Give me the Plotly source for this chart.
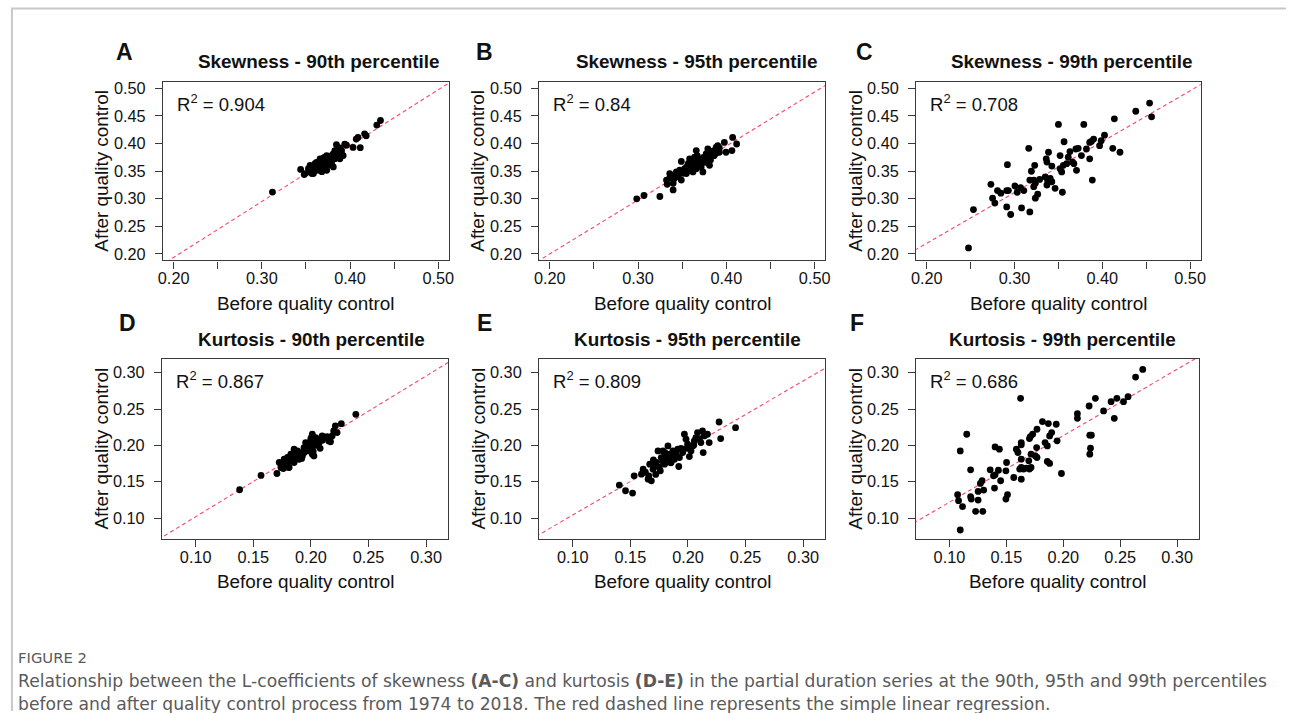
import plotly.graph_objects as go

W, H = 1291, 713

# ---------------- data ----------------
skew90_before = [0.312, 0.344, 0.348, 0.4345, 0.4303, 0.4165, 0.4183, 0.407, 0.409, 0.4116, 0.4034, 0.3846, 0.394, 0.396,
                 0.349, 0.3547, 0.3528, 0.3566, 0.3603, 0.3622, 0.3641, 0.366, 0.3678, 0.3697, 0.3716, 0.3697, 0.3735,
                 0.3753, 0.3772, 0.3791, 0.381, 0.3828, 0.3847, 0.3866, 0.3885, 0.3903, 0.3922, 0.3791, 0.366, 0.3585,
                 0.3735, 0.3828, 0.3885, 0.3753, 0.381,
                 0.357, 0.361, 0.364, 0.367, 0.369, 0.371, 0.374, 0.376, 0.378, 0.38, 0.372, 0.365, 0.368, 0.385, 0.387,
                 0.39, 0.378, 0.383, 0.362, 0.37,
                 0.3566, 0.3622, 0.3547, 0.368, 0.389, 0.375]
skew90_after = [0.312, 0.353, 0.3437, 0.4417, 0.4335, 0.4175, 0.4139, 0.408, 0.411, 0.3925, 0.393, 0.3979, 0.399, 0.397,
                0.3456, 0.3485, 0.3545, 0.3575, 0.3634, 0.3575, 0.3664, 0.3723, 0.3634, 0.3693, 0.3753, 0.3545, 0.3515,
                0.3604, 0.3693, 0.3782, 0.3812, 0.3723, 0.3842, 0.3782, 0.3812, 0.3871, 0.3782, 0.3634, 0.3515, 0.3456,
                0.3782, 0.3871, 0.3723, 0.3664, 0.3575,
                0.352, 0.358, 0.361, 0.365, 0.36, 0.368, 0.372, 0.375, 0.371, 0.376, 0.357, 0.355, 0.37, 0.38, 0.385,
                0.383, 0.365, 0.378, 0.366, 0.374,
                0.3455, 0.3515, 0.3604, 0.349, 0.392, 0.366]

skew95_before = [0.2985, 0.3067, 0.3247, 0.3397, 0.3322, 0.3359, 0.3416, 0.3434, 0.349, 0.3397, 0.349, 0.3472, 0.3528,
                 0.3565, 0.3603, 0.3622, 0.3659, 0.3584, 0.364, 0.3659, 0.3696, 0.3715, 0.3753, 0.3771, 0.379, 0.3809,
                 0.3846, 0.3865, 0.3884, 0.3902, 0.3921, 0.3977, 0.3996, 0.4071, 0.4116, 0.4063, 0.3734, 0.3622, 0.3547,
                 0.345, 0.351, 0.355, 0.358, 0.361, 0.363, 0.366, 0.368, 0.37, 0.372, 0.374, 0.376, 0.378, 0.38, 0.382,
                 0.384, 0.386, 0.388, 0.39, 0.392, 0.367, 0.357, 0.353, 0.347, 0.341, 0.336, 0.333]
skew95_after = [0.2998, 0.3058, 0.304, 0.3159, 0.3337, 0.3456, 0.3426, 0.3486, 0.3337, 0.3278, 0.3676, 0.3516, 0.3545,
                0.3605, 0.3664, 0.3486, 0.3545, 0.3723, 0.3753, 0.3872, 0.3664, 0.3575, 0.3723, 0.3812, 0.3902, 0.3605,
                0.3783, 0.3842, 0.3931, 0.3961, 0.3842, 0.402, 0.3842, 0.411, 0.3991, 0.3872, 0.3486, 0.3605, 0.3456,
                0.34, 0.346, 0.357, 0.351, 0.359, 0.362, 0.368, 0.372, 0.363, 0.37, 0.375, 0.366, 0.374, 0.378, 0.37,
                0.386, 0.378, 0.382, 0.388, 0.392, 0.378, 0.364, 0.35, 0.345, 0.336, 0.338, 0.326]

skew99_before = [0.2476, 0.2532, 0.2731, 0.2750, 0.2776, 0.2806, 0.2844, 0.2911, 0.293, 0.2919, 0.2911, 0.2956, 0.3005,
                 0.3031, 0.3069, 0.308, 0.3106, 0.3162, 0.3174, 0.3174, 0.3192, 0.3219, 0.3237, 0.3219, 0.323, 0.3237,
                 0.3264, 0.3286, 0.335, 0.3361, 0.3369, 0.3387, 0.3369, 0.3376, 0.3406, 0.3425, 0.3425, 0.3462, 0.35,
                 0.3519, 0.3519, 0.3537, 0.3545, 0.3564, 0.3556, 0.3594, 0.3612, 0.3631, 0.3661, 0.3676, 0.3699, 0.3725,
                 0.3706, 0.3762, 0.3789, 0.3819, 0.3856, 0.3875, 0.3856, 0.3886, 0.3901, 0.3969, 0.3987, 0.4025, 0.4137,
                 0.4119, 0.4201, 0.4381, 0.4538, 0.4561]
skew99_after = [0.2107, 0.2802, 0.326, 0.301, 0.2921, 0.3147, 0.31, 0.3147, 0.3147, 0.3616, 0.285, 0.2713, 0.323,
                0.3117, 0.32, 0.2832, 0.3147, 0.3913, 0.3337, 0.2761, 0.3497, 0.3337, 0.3278, 0.3218, 0.3604, 0.301,
                0.3081, 0.3349, 0.3396, 0.3723, 0.3664, 0.3842, 0.3248, 0.3337, 0.3367, 0.3307, 0.3592, 0.3188, 0.4347,
                0.3782, 0.3545, 0.3485, 0.3117, 0.4032, 0.3604, 0.3634, 0.3753, 0.3854, 0.3664, 0.3634, 0.3901, 0.3913,
                0.3515, 0.3782, 0.4347, 0.3901, 0.402, 0.4038, 0.3723, 0.3337, 0.408, 0.3961, 0.405, 0.4151, 0.4448,
                0.3913, 0.3842, 0.4585, 0.4733, 0.4484]

kurt90_before = [0.1381, 0.1567, 0.1705, 0.239, 0.2264, 0.2212, 0.2198, 0.2227, 0.2184, 0.2155, 0.2126, 0.2098, 0.2069,
                 0.2041, 0.2012, 0.1997, 0.2026, 0.1983, 0.1954, 0.194, 0.1969, 0.2012, 0.2026, 0.1911, 0.1883, 0.1869,
                 0.1854, 0.184, 0.1826, 0.1797, 0.1783, 0.1768, 0.1754, 0.1811, 0.174, 0.1725, 0.1854, 0.1897, 0.1926,
                 0.178, 0.182, 0.186, 0.19, 0.194, 0.198, 0.2, 0.203, 0.205, 0.207, 0.21, 0.2, 0.196, 0.18, 0.176,
                 0.188, 0.192, 0.214, 0.217, 0.208, 0.202]
kurt90_after = [0.1389, 0.1586, 0.1613, 0.2428, 0.2299, 0.2267, 0.2199, 0.2176, 0.213, 0.2061, 0.2107, 0.213, 0.2084,
                0.2107, 0.2153, 0.2061, 0.2016, 0.1993, 0.2038, 0.197, 0.1924, 0.1878, 0.1855, 0.1901, 0.1924, 0.1855,
                0.1947, 0.1809, 0.1878, 0.1833, 0.1764, 0.1809, 0.1741, 0.1695, 0.1695, 0.1764, 0.1764, 0.1809, 0.1855,
                0.172, 0.178, 0.184, 0.187, 0.19, 0.194, 0.198, 0.205, 0.2, 0.203, 0.207, 0.21, 0.2, 0.17, 0.168,
                0.19, 0.182, 0.212, 0.205, 0.196, 0.192]

kurt95_before = [0.1404, 0.1458, 0.1519, 0.1533, 0.1611, 0.1596, 0.1654, 0.1682, 0.1668, 0.1697, 0.1725, 0.174, 0.1783,
                 0.1768, 0.1797, 0.1811, 0.1826, 0.184, 0.1869, 0.1854, 0.1883, 0.1897, 0.1911, 0.192, 0.1926, 0.1954,
                 0.1969, 0.1983, 0.1997, 0.2012, 0.2026, 0.204, 0.2055, 0.2069, 0.2083, 0.2098, 0.2112, 0.2126, 0.2132,
                 0.2141, 0.2169, 0.2184, 0.227, 0.2284, 0.2413,
                 0.163, 0.171, 0.175, 0.178, 0.183, 0.187, 0.189, 0.194, 0.176, 0.185, 0.19, 0.172, 0.166, 0.199,
                 0.205, 0.18, 0.17]
kurt95_after = [0.1453, 0.1375, 0.1343, 0.1581, 0.1672, 0.1604, 0.1535, 0.1512, 0.1741, 0.1672, 0.1764, 0.1924, 0.1924,
                0.1832, 0.1741, 0.1809, 0.1993, 0.1878, 0.1924, 0.1764, 0.1809, 0.1878, 0.1947, 0.1709, 0.1832, 0.1901,
                0.2153, 0.2084, 0.2016, 0.1846, 0.1924, 0.1993, 0.2061, 0.2107, 0.2176, 0.2093, 0.2038, 0.2199, 0.1901,
                0.213, 0.2153, 0.2038, 0.2322, 0.2093, 0.2244,
                0.163, 0.172, 0.17, 0.178, 0.185, 0.182, 0.19, 0.196, 0.165, 0.176, 0.185, 0.16, 0.158, 0.196,
                0.2, 0.19, 0.18]

kurt99_before = [0.1095, 0.1072, 0.108, 0.1095, 0.1115, 0.1152, 0.1186, 0.1186, 0.1192, 0.123, 0.1252, 0.1252, 0.1272,
                 0.1287, 0.1293, 0.1301, 0.1358, 0.1387, 0.1401, 0.1396, 0.1401, 0.143, 0.1439, 0.145, 0.1496, 0.1502,
                 0.1496, 0.151, 0.1565, 0.1588, 0.1602, 0.1625, 0.1617, 0.1631, 0.1631, 0.1631, 0.1631, 0.1631, 0.1651,
                 0.1674, 0.1697, 0.1703, 0.1711, 0.1703, 0.1717, 0.1717, 0.1731, 0.1754, 0.1766, 0.1769, 0.1769, 0.1817,
                 0.184, 0.186, 0.1869, 0.186, 0.188, 0.188, 0.1898, 0.1938, 0.1946, 0.1984, 0.2124, 0.2124, 0.2227,
                 0.2233, 0.2247, 0.2239, 0.2233, 0.2282, 0.2354, 0.242, 0.2448, 0.2471, 0.2529, 0.2569, 0.2635, 0.2698]
kurt99_after = [0.0835, 0.132, 0.1238, 0.1924, 0.1156, 0.2153, 0.1664, 0.1293, 0.1261, 0.1092, 0.1366, 0.1247, 0.1476,
                0.1513, 0.1092, 0.1384, 0.1664, 0.1581, 0.1595, 0.1412, 0.1979, 0.1659, 0.1947, 0.1513, 0.165, 0.1764,
                0.1261, 0.132, 0.1558, 0.1947, 0.1902, 0.2648, 0.1673, 0.1696, 0.2039, 0.2007, 0.181, 0.1535, 0.1673,
                0.1687, 0.1787, 0.2094, 0.2121, 0.1673, 0.1696, 0.1879, 0.2153, 0.1856, 0.197, 0.2222, 0.1833, 0.2327,
                0.2039, 0.1993, 0.23, 0.1778, 0.1751, 0.213, 0.2176, 0.2291, 0.2062, 0.1613, 0.2437, 0.2373, 0.2542,
                0.214, 0.214, 0.1961, 0.1879, 0.2648, 0.2474, 0.2602, 0.2373, 0.2648, 0.2602, 0.267, 0.294, 0.3046]

panel_letters = ["A", "B", "C", "D", "E", "F"]
panel_titles = ["Skewness - 90th percentile", "Skewness - 95th percentile", "Skewness - 99th percentile",
                "Kurtosis - 90th percentile", "Kurtosis - 95th percentile", "Kurtosis - 99th percentile"]
r2_labels = ["0.904", "0.84", "0.708", "0.867", "0.809", "0.686"]
fit_intercept = [-0.009, 0.004, 0.0347, 0.0049, 0.0118, 0.0303]
fit_slope = [1.013, 0.979, 0.922, 0.969, 0.923, 0.915]

skew_xticks = [0.20, 0.30, 0.40, 0.50]
skew_xminor = [0.25, 0.35, 0.45]
skew_yticks = [0.20, 0.25, 0.30, 0.35, 0.40, 0.45, 0.50]
kurt_ticks = [0.10, 0.15, 0.20, 0.25, 0.30]

x_title = "Before quality control"
y_title = "After quality control"
caption_head = "FIGURE 2"
caption_l1 = ("Relationship between the L-coefficients of skewness <b>(A-C)</b> and kurtosis <b>(D-E)</b> "
              "in the partial duration series at the 90th, 95th and 99th percentiles")
caption_l2 = ("before and after quality control process from 1974 to 2018. The red dashed line represents "
              "the simple linear regression.")

series = [(skew90_before, skew90_after), (skew95_before, skew95_after), (skew99_before, skew99_after),
          (kurt90_before, kurt90_after), (kurt95_before, kurt95_after), (kurt99_before, kurt99_after)]

# ---------------- layout geometry (pixels) ----------------
boxes = [  # x0, x1, y_top, y_bottom
    (159.3, 447.3, 79.3, 259.3),
    (538.3, 826.7, 79.3, 259.3),
    (918.3, 1205.0, 79.3, 259.3),
    (158.3, 446.7, 358.3, 540.0),
    (538.3, 826.7, 358.3, 540.0),
    (918.3, 1203.3, 358.3, 540.0),
]
skew_range = [0.188, 0.512]
kurt_range = [0.0708, 0.3192]
letter_pos = [(120, 49), (483, 49), (866, 49), (123, 322), (483, 322), (859, 322)]
title_pos = [(316, 59), (697, 59), (1075, 59), (309, 339), (688, 339), (1066, 339)]
xtitle_y = [303, 303, 303, 583, 583, 583]


def px(x):
    return x / W


def py(y):
    return 1 - y / H


FONT = "Liberation Sans, Arial, Helvetica, sans-serif"
TXT = "#111111"
AX = "#3a3a3a"
RED = "rgb(243,74,104)"

fig = go.Figure()
annotations = []

for i, (xs, ys) in enumerate(series):
    n = i + 1
    sfx = "" if n == 1 else str(n)
    x0, x1, yt, yb = boxes[i]
    is_skew = i < 3
    rng = skew_range if is_skew else kurt_range

    # regression line (clipped by the axes)
    lx = [rng[0] - 0.05, rng[1] + 0.05]
    ly = [fit_intercept[i] + fit_slope[i] * v for v in lx]
    fig.add_trace(go.Scatter(x=lx, y=ly, mode="lines", xaxis="x" + sfx, yaxis="y" + sfx,
                             line=dict(color=RED, width=1.1, dash="4px,3px"), hoverinfo="skip",
                             showlegend=False))
    fig.add_trace(go.Scatter(x=xs, y=ys, mode="markers", xaxis="x" + sfx, yaxis="y" + sfx,
                             marker=dict(color="black", size=6.8, line=dict(width=0)),
                             showlegend=False, cliponaxis=False))

    common = dict(showgrid=False, zeroline=False, showline=True, mirror=True, linecolor=AX, linewidth=1.3,
                  ticks="outside", ticklen=7, tickwidth=1.2, tickcolor=AX, range=rng,
                  tickfont=dict(family=FONT, size=16.3, color=TXT), fixedrange=True, tickmode="array")
    if is_skew:
        xt, yv = skew_xticks, skew_yticks
        xminor = dict(tickmode="array", tickvals=skew_xminor, ticks="outside", ticklen=7, tickwidth=1.2,
                      tickcolor=AX, showgrid=False)
    else:
        xt, yv = kurt_ticks, kurt_ticks
        xminor = None
    xa = dict(domain=[px(x0), px(x1)], anchor="y" + sfx, tickvals=xt,
              ticktext=["%.2f" % v for v in xt], ticklabelstandoff=-4, **common)
    if xminor:
        xa["minor"] = xminor
    ya = dict(domain=[py(yb), py(yt)], anchor="x" + sfx, tickvals=yv,
              ticktext=["%.2f" % v for v in yv], ticklabelstandoff=6, **common)
    fig.update_layout(**{"xaxis" + sfx: xa, "yaxis" + sfx: ya})

    # panel letter
    lxp, lyp = letter_pos[i]
    annotations.append(dict(x=px(lxp), y=py(lyp), xref="paper", yref="paper", text="<b>%s</b>" % panel_letters[i],
                            showarrow=False, xanchor="center", yanchor="middle",
                            font=dict(family=FONT, size=23, color=TXT)))
    # title
    tx, ty = title_pos[i]
    annotations.append(dict(x=px(tx), y=py(ty), xref="paper", yref="paper", text="<b>%s</b>" % panel_titles[i],
                            showarrow=False, xanchor="center", yanchor="middle",
                            font=dict(family=FONT, size=18.9, color=TXT)))
    # R^2
    annotations.append(dict(x=px(x0 + 12), y=py(yt + 21), xref="paper", yref="paper",
                            text="R<sup>2</sup> = %s" % r2_labels[i], showarrow=False,
                            xanchor="left", yanchor="middle", font=dict(family=FONT, size=18.5, color=TXT)))
    # axis titles
    annotations.append(dict(x=px((x0 + x1) / 2), y=py(xtitle_y[i]), xref="paper", yref="paper", text=x_title,
                            showarrow=False, xanchor="center", yanchor="middle",
                            font=dict(family=FONT, size=18.9, color=TXT)))
    annotations.append(dict(x=px(x0 - 62), y=py((yt + yb) / 2), xref="paper", yref="paper", text=y_title,
                            showarrow=False, xanchor="center", yanchor="middle", textangle=-90,
                            font=dict(family=FONT, size=18.9, color=TXT)))

CAP_FONT = "DejaVu Sans, Noto Sans, sans-serif"
CAP_COL = "#5a5a5a"
annotations.append(dict(x=px(11), y=py(659), xref="paper", yref="paper", text=caption_head, showarrow=False,
                        xanchor="left", yanchor="middle", font=dict(family=CAP_FONT, size=14.8, color=CAP_COL)))
annotations.append(dict(x=px(11), y=py(683), xref="paper", yref="paper", text=caption_l1, showarrow=False,
                        xanchor="left", yanchor="middle", font=dict(family=CAP_FONT, size=17.15, color=CAP_COL)))
annotations.append(dict(x=px(11), y=py(706), xref="paper", yref="paper", text=caption_l2, showarrow=False,
                        xanchor="left", yanchor="middle", font=dict(family=CAP_FONT, size=17.15, color=CAP_COL)))

shapes = [
    dict(type="line", xref="paper", yref="paper", x0=px(6), x1=1, y0=py(5.5), y1=py(5.5),
         line=dict(color="#c8c8c8", width=2)),
    dict(type="line", xref="paper", yref="paper", x0=px(7), x1=px(7), y0=py(5.5), y1=0,
         line=dict(color="#c8c8c8", width=2)),
]

fig.update_layout(width=W, height=H, margin=dict(l=0, r=0, t=0, b=0), paper_bgcolor="white",
                  plot_bgcolor="white", annotations=annotations, shapes=shapes, showlegend=False)

fig.write_html("out.html", config={"displayModeBar": False},
               post_script="document.body.style.margin='0px';document.body.style.overflow='hidden';")
